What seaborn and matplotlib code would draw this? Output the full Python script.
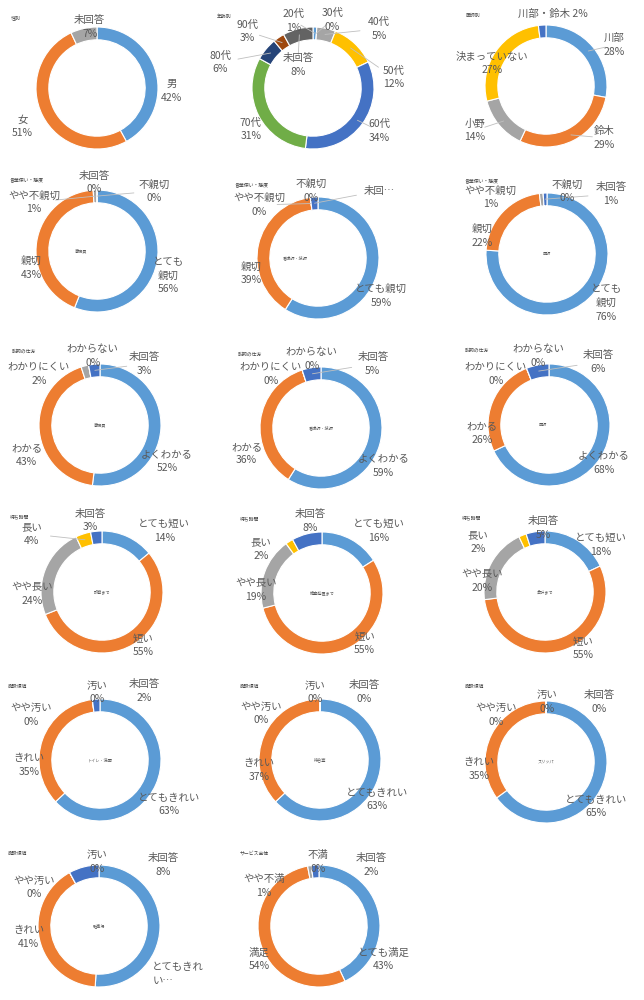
import matplotlib
matplotlib.use("Agg")
import matplotlib.pyplot as plt
import seaborn as sns
import numpy as np

sns.set_theme(style="white")
plt.rcParams['font.family'] = ['Noto Sans CJK JP', 'DejaVu Sans']

# Excel-like default palette
palette = sns.color_palette(["#5B9BD5", "#ED7D31", "#A5A5A5", "#FFC000", "#4472C4",
                             "#70AD47", "#264478", "#9E480E", "#636363"])
TXT = "#595959"

# --- data ---
gender_cats = ["男", "女", "未回答"]
gender_vals = [42, 51, 7]
age_cats = ["20代", "30代", "40代", "50代", "60代", "70代", "80代", "90代", "未回答"]
age_vals = [1, 0, 5, 12, 34, 31, 6, 3, 8]
doctor_cats = ["川部", "鈴木", "小野", "決まっていない", "川部・鈴木"]
doctor_vals = [28, 29, 14, 27, 2]
manner_cats = ["とても親切", "親切", "やや不親切", "不親切", "未回答"]
manner_clerk = [56, 43, 1, 0, 0]
manner_nurse = [59, 39, 0, 0, 2]
manner_doctor = [76, 22, 1, 0, 1]
explain_cats = ["よくわかる", "わかる", "わかりにくい", "わからない", "未回答"]
explain_clerk = [52, 43, 2, 0, 3]
explain_nurse = [59, 36, 0, 0, 5]
explain_doctor = [68, 26, 0, 0, 6]
wait_cats = ["とても短い", "短い", "やや長い", "長い", "未回答"]
wait_exam = [14, 55, 24, 4, 3]
wait_test = [16, 55, 19, 2, 8]
wait_pay = [18, 55, 20, 2, 5]
clean_cats = ["とてもきれい", "きれい", "やや汚い", "汚い", "未回答"]
clean_toilet = [63, 35, 0, 0, 2]
clean_lobby = [63, 37, 0, 0, 0]
clean_slipper = [65, 35, 0, 0, 0]
clean_parking = [51, 41, 0, 0, 8]
overall_cats = ["とても満足", "満足", "やや不満", "不満", "未回答"]
overall_vals = [43, 54, 1, 0, 2]

# --- layout (pixels, y from top) ---
charts = [
    dict(title="性別", txy=(11, 18), c=(97, 88), sub="", cats=gender_cats, vals=gender_vals,
         lab=[(1.22, -0.05), (-1.22, -0.63), (-0.12, 1.0)], lead=[]),
    dict(title="年齢別", txy=(217, 16), c=(313, 88), sub="", cats=age_cats, vals=age_vals,
         lab=[(-0.32, 1.1), (0.32, 1.12), (1.08, 0.97), (1.32, 0.17), (1.08, -0.7),
              (-1.02, -0.68), (-1.52, 0.42), (-1.08, 0.93), (-0.25, 0.38)],
         lead=[0, 1, 2, 3, 4, 6, 7, 8]),
    dict(title="医師別", txy=(465, 15), c=(546, 86), sub="", cats=doctor_cats, vals=doctor_vals,
         lab=[(1.12, 0.67), (0.95, -0.85), (-1.17, -0.73), (-0.88, 0.37), (0.12, 1.18)],
         lead=[0, 1, 2], fmt={4: "{n} {p}%"}),
    dict(title="言葉使い・態度", txy=(10, 180), c=(97, 251), sub="事務員", sdx=-0.27,
         cats=manner_cats, vals=manner_clerk,
         lab=[(1.17, -0.4), (-1.08, -0.28), (-1.03, 0.8), (0.93, 0.98), (-0.05, 1.12)],
         lead=[2, 3], fmt={0: "とても\n親切\n{p}%"}),
    dict(title="言葉使い・態度", txy=(235, 185), c=(318, 258), sub="看護師・技師", sdx=-0.38,
         cats=manner_cats, vals=manner_nurse,
         lab=[(1.03, -0.62), (-1.1, -0.25), (-0.97, 0.87), (-0.12, 1.1), (1.0, 1.1)],
         lead=[2, 4], fmt={4: "未回…"}),
    dict(title="言葉使い・態度", txy=(465, 181), c=(547, 254), sub="医師",
         cats=manner_cats, vals=manner_doctor,
         lab=[(0.97, -0.8), (-1.07, 0.3), (-0.93, 0.93), (0.33, 1.03), (1.05, 0.98)],
         lead=[4], fmt={0: "とても\n親切\n{p}%"}),
    dict(title="説明の仕方", txy=(12, 351), c=(100, 425), sub="事務員",
         cats=explain_cats, vals=explain_clerk,
         lab=[(1.1, -0.6), (-1.2, -0.5), (-1.0, 0.83), (-0.12, 1.13), (0.72, 1.0)], lead=[4]),
    dict(title="説明の仕方", txy=(238, 354), c=(321, 428), sub="看護師・技師",
         cats=explain_cats, vals=explain_nurse,
         lab=[(1.02, -0.62), (-1.22, -0.42), (-0.82, 0.88), (-0.15, 1.13), (0.85, 1.05)], lead=[4]),
    dict(title="説明の仕方", txy=(465, 350), c=(549, 425), sub="医師", sdx=-0.1,
         cats=explain_cats, vals=explain_doctor,
         lab=[(0.9, -0.62), (-1.1, -0.13), (-0.87, 0.83), (-0.18, 1.13), (0.8, 1.03)], lead=[4]),
    dict(title="待ち時間", txy=(10, 517), c=(102, 592), sub="診察まで",
         cats=wait_cats, vals=wait_exam,
         lab=[(1.02, 1.0), (0.68, -0.88), (-1.15, -0.03), (-1.15, 0.95), (-0.2, 1.17)], lead=[3]),
    dict(title="待ち時間", txy=(240, 519), c=(322, 593), sub="検査処置まで",
         cats=wait_cats, vals=wait_test,
         lab=[(0.93, 1.02), (0.7, -0.83), (-1.08, 0.05), (-1.0, 0.72), (-0.2, 1.18)], lead=[]),
    dict(title="待ち時間", txy=(462, 518), c=(545, 592), sub="会計まで",
         cats=wait_cats, vals=wait_pay,
         lab=[(0.92, 0.77), (0.63, -0.92), (-1.03, 0.18), (-1.1, 0.82), (-0.03, 1.05)], lead=[]),
    dict(title="施設環境", txy=(8, 686), c=(100, 760), sub="トイレ・洗面",
         cats=clean_cats, vals=clean_toilet,
         lab=[(1.13, -0.73), (-1.16, -0.08), (-1.13, 0.74), (-0.05, 1.11), (0.73, 1.13)], lead=[]),
    dict(title="施設環境", txy=(240, 686), c=(320, 760), sub="待合室",
         cats=clean_cats, vals=clean_lobby,
         lab=[(0.94, -0.65), (-1.0, -0.16), (-0.97, 0.76), (-0.08, 1.11), (0.73, 1.11)], lead=[]),
    dict(title="施設環境", txy=(465, 686), c=(546, 762), sub="スリッパ",
         cats=clean_cats, vals=clean_slipper,
         lab=[(0.82, -0.73), (-1.1, -0.11), (-0.82, 0.77), (0.02, 0.98), (0.87, 0.98)], lead=[]),
    dict(title="施設環境", txy=(8, 853), c=(99, 926), sub="駐車場",
         cats=clean_cats, vals=clean_parking,
         lab=[(1.3, -0.79), (-1.15, -0.18), (-1.06, 0.63), (-0.03, 1.05), (1.06, 1.0)], lead=[],
         fmt={0: "とてもきれ\nい…"}),
    dict(title="サービス全体", txy=(240, 853), c=(319, 926), sub="",
         cats=overall_cats, vals=overall_vals,
         lab=[(1.06, -0.55), (-0.98, -0.55), (-0.9, 0.66), (-0.02, 1.05), (0.85, 1.0)], lead=[]),
]

W, H = 644, 1000
R = 61      # pixels per radius unit
L = 1.8     # half-extent of each axes in radius units

fig = plt.figure(figsize=(W / 100, H / 100), dpi=100)
fig.patch.set_facecolor("white")

for ch in charts:
    cx, cy = ch["c"]
    half = L * R
    ax = fig.add_axes([(cx - half) / W, (H - cy - half) / H, 2 * half / W, 2 * half / H])
    vals = ch["vals"]
    ax.pie(vals, colors=palette[:len(vals)], startangle=90, counterclock=False, radius=1.0,
           wedgeprops=dict(width=0.21, edgecolor="white", linewidth=0.8))
    ax.set_xlim(-L, L)
    ax.set_ylim(-L, L)
    ax.set_aspect("equal")
    ax.axis("off")

    total = float(sum(vals))
    cum = np.cumsum([0] + list(vals))
    fmt = ch.get("fmt", {})
    for i, (name, v) in enumerate(zip(ch["cats"], vals)):
        lx, ly = ch["lab"][i]
        text = fmt.get(i, "{n}\n{p}%").format(n=name, p=v)
        ml = "left" if text.endswith("…") and "\n" in text else "center"
        ax.text(lx, ly, text, ha="center", va="center", fontsize=7.5, color=TXT,
                linespacing=1.45, multialignment=ml, clip_on=False)
        if i in ch["lead"]:
            ang = np.deg2rad(90 - 360 * (cum[i] + v / 2) / total)
            px, py = 0.9 * np.cos(ang), 0.9 * np.sin(ang)
            ex, ey = px + 0.65 * (lx - px), py + 0.65 * (ly - py)
            ax.plot([px, ex], [py, ey], color="#BFBFBF", lw=0.6, clip_on=False)

    if ch["sub"]:
        ax.text(ch.get("sdx", 0.0), 0, ch["sub"], ha="center", va="center", fontsize=3, color=TXT)

    tx, ty = ch["txy"]
    fig.text(tx / W, 1 - ty / H, ch["title"], ha="left", va="center", fontsize=3.5, color="#404040")

fig.savefig("out.png", dpi=100, facecolor="white")
